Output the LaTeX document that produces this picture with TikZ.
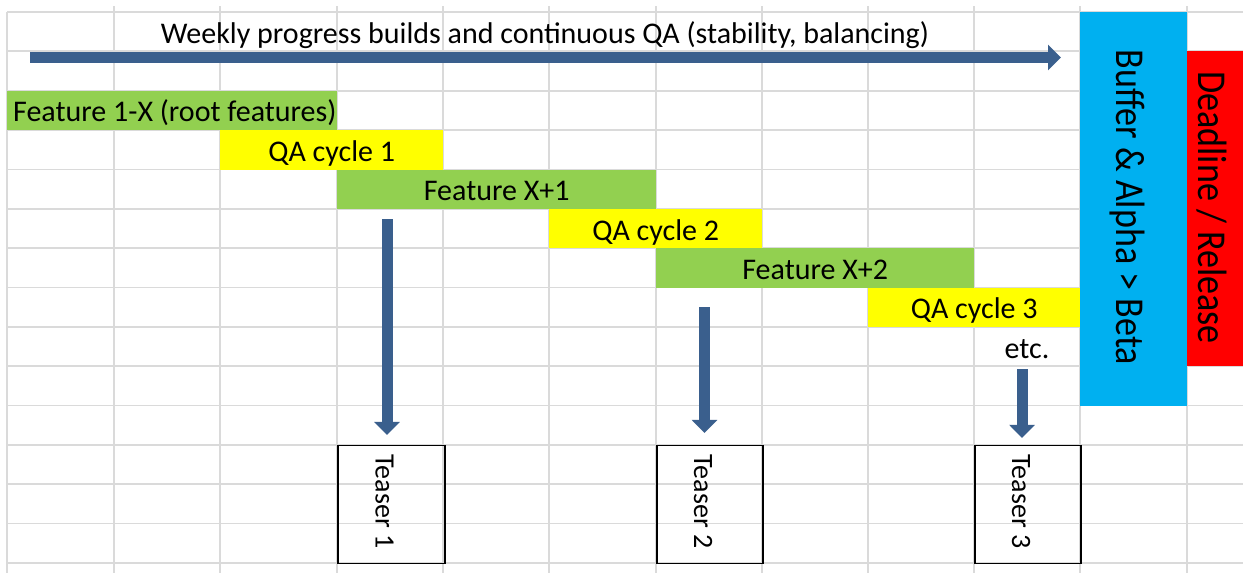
\documentclass[tikz,border=0pt]{standalone}
\usepackage{fontspec}
\usepackage{graphicx}
\setmainfont{Carlito}
\usetikzlibrary{arrows.meta}
\definecolor{cgreen}{HTML}{92D050}
\definecolor{cyellow}{HTML}{FFFF00}
\definecolor{ccyan}{HTML}{00B0F0}
\definecolor{cred}{HTML}{FF0000}
\definecolor{carrow}{HTML}{3A5F8D}
\definecolor{cgrid}{HTML}{DADADA}
\begin{document}
\begin{tikzpicture}[x=1pt,y=-1pt,
  gridline/.style={cgrid, line width=1.8pt},
  bar/.style={inner sep=0pt, minimum height=39.35pt, anchor=north west,
    font=\fontsize{30}{36}\selectfont, text height=23pt, text depth=0pt},
  lbl/.style={inner sep=0pt, font=\fontsize{30}{36}\selectfont,
    text height=23pt, text depth=0pt},
  vlbl/.style={inner sep=0pt, rotate=-90, font=\fontsize{28}{34}\selectfont,
    text height=17.7pt, text depth=0pt},
  biglbl/.style={inner sep=0pt, rotate=-90, font=\fontsize{41}{48}\selectfont,
    text height=25.9pt, text depth=0pt},
  block/.style={inner sep=0pt, anchor=north west},
  teaserbox/.style={draw=black, line width=1.6pt, inner sep=0pt,
    anchor=north west, minimum height=118pt},
  fatarrow/.style={carrow, line width=11pt, -{Triangle[width=25pt,length=13pt]}},
]
\useasboundingbox (0,0) rectangle (1243,573);
\fill[white] (0,0) rectangle (1243,573);
% spreadsheet grid
\foreach \x in {114,220,337,443,549,656,762,868,974,1080,1187}
  \draw[gridline] (\x,6) -- (\x,573);
\draw[gridline] (7,12) -- (7,573);
\foreach \i in {0,...,14}
  \draw[gridline] (7,12+39.35*\i) -- (1243,12+39.35*\i);

% title
\node[lbl] (title) at (545,31.7) {Weekly progress builds and continuous QA (stability, balancing)};

% feature / QA bars
\node[bar, fill=cgreen, minimum width=330pt] (f1) at (7,90.7) {};
\node[lbl, anchor=west] (f1t) at (13,110.4) {Feature 1-X (root features)};
\node[bar, fill=cyellow, minimum width=223pt] (q1) at (220,130.05) {QA cycle 1};
\node[bar, fill=cgreen, minimum width=319pt] (f2) at (337,169.4) {Feature X+1};
\node[bar, fill=cyellow, minimum width=213pt] (q2) at (549,208.75) {QA cycle 2};
\node[bar, fill=cgreen, minimum width=318pt] (f3) at (656,248.1) {Feature X+2};
\node[bar, fill=cyellow, minimum width=212pt] (q3) at (868,287.45) {QA cycle 3};
\node[lbl] (etc) at (1027,346.5) {etc.};

% buffer and deadline
\node[block, fill=ccyan, minimum width=107pt, minimum height=393.5pt] (buf) at (1080,12) {};
\node[block, fill=cred, minimum width=57pt, minimum height=315.5pt] (dl) at (1186.5,50.5) {};
\node[biglbl] (buft) at (1129,207.5) {\scalebox{0.88}[1]{Buffer \& Alpha > Beta}};
\node[biglbl] (dlt) at (1211.5,207.5) {\scalebox{0.88}[1]{Deadline / Release}};

% teasers
\node[teaserbox, minimum width=107pt] (t1) at (337,444.85) {};
\node[teaserbox, minimum width=106pt] (t2) at (656,444.85) {};
\node[teaserbox, minimum width=106pt] (t3) at (974,444.85) {};
\node[vlbl] (t1t) at (384.5,501.5) {Teaser 1};
\node[vlbl] (t2t) at (703,501.5) {Teaser 2};
\node[vlbl] (t3t) at (1021,501.5) {Teaser 3};

% arrows
\coordinate (hs) at (30,57.5);
\coordinate (he) at (1061,57.5);
\draw[fatarrow] (hs) -- (he);
\coordinate (a1) at (387,219);
\coordinate (a2) at (704.5,307);
\coordinate (a3) at (1022,369);
\draw[fatarrow, shorten >=10pt] (a1) -- (a1 |- t1.north);
\draw[fatarrow, shorten >=12pt] (a2) -- (a2 |- t2.north);
\draw[fatarrow, shorten >=7pt] (a3) -- (a3 |- t3.north);
\end{tikzpicture}
\end{document}
